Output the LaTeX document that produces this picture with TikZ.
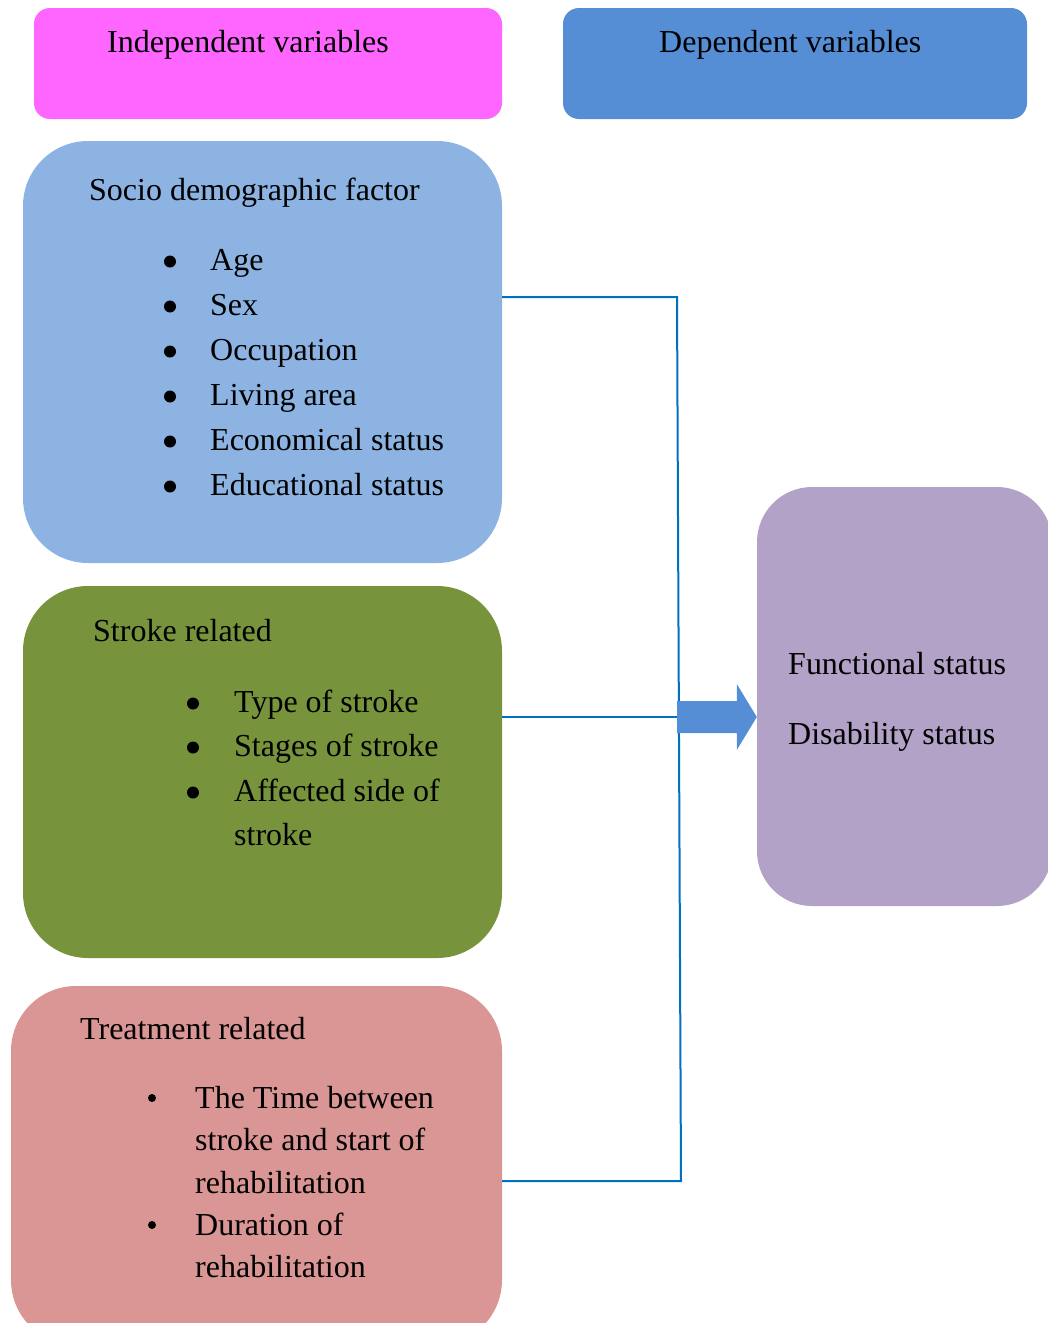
\documentclass[tikz,border=0pt]{standalone}
\usepackage{fontspec}
\setmainfont{Liberation Serif}
\definecolor{indepc}{HTML}{FF66FF}
\definecolor{depc}{HTML}{558ED5}
\definecolor{socc}{HTML}{8DB3E2}
\definecolor{strc}{HTML}{77933C}
\definecolor{trtc}{HTML}{D99694}
\definecolor{outc}{HTML}{B3A2C7}
\definecolor{linkc}{HTML}{0070C0}
\begin{document}
\begin{tikzpicture}[x=1pt,y=-1pt,
  box/.style={rounded corners=#1, inner sep=0pt, draw=none},
  txt/.style={anchor=base west, inner sep=0pt, font=\fontsize{32}{38}\selectfont},
  bigdot/.style={circle, fill=black, inner sep=0pt, minimum size=12pt},
  smalldot/.style={circle, fill=black, inner sep=0pt, minimum size=8pt},
  link/.style={draw=linkc, line width=2pt}]
\useasboundingbox (0,0) rectangle (1048,1323);
\clip (0,0) rectangle (1048,1323);

% header boxes
\node[box=16pt, fill=indepc, minimum width=468pt, minimum height=111pt] (indep) at (268,63.5) {};
\node[box=16pt, fill=depc, minimum width=464pt, minimum height=111pt] (dep) at (795,63.5) {};
\node[txt] (indept) at (107,52) {Independent variables};
\node[txt] (dept) at (659,52) {Dependent variables};

% main boxes
\node[box=65pt, fill=socc, minimum width=479pt, minimum height=422pt] (soc) at (262.5,352) {};
\node[box=65pt, fill=strc, minimum width=479pt, minimum height=372pt] (str) at (262.5,772) {};
\node[box=65pt, fill=trtc, minimum width=491pt, minimum height=359pt] (trt) at (256.5,1165.5) {};
\node[box=55pt, fill=outc, minimum width=295pt, minimum height=419pt] (out) at (904.5,696.5) {};

% socio demographic text
\node[txt] (soch) at (89,200) {Socio demographic factor};
\foreach \t/\y [count=\i] in {Age/270, Sex/315, Occupation/360, Living area/405, Economical status/450, Educational status/495}{
  \node[bigdot] (socb\i) at (170,\y-8.5) {};
  \node[txt] (soct\i) at (210,\y) {\t};
}

% stroke related text
\node[txt] (strh) at (93,641) {Stroke related};
\foreach \t/\y [count=\i] in {Type of stroke/712, Stages of stroke/756, Affected side of/801}{
  \node[bigdot] (strb\i) at (193,\y-8.5) {};
  \node[txt] (strt\i) at (234,\y) {\t};
}
\node[txt] (strt4) at (234,845) {stroke};

% treatment related text
\node[txt] (trth) at (80,1039) {Treatment related};
\node[smalldot] (trtb1) at (152,1098) {};
\node[txt] (trtt1) at (195,1108) {The Time between};
\node[txt] (trtt2) at (195,1150) {stroke and start of};
\node[txt] (trtt3) at (195,1193) {rehabilitation};
\node[smalldot] (trtb2) at (152,1225) {};
\node[txt] (trtt4) at (195,1235) {Duration of};
\node[txt] (trtt5) at (195,1277) {rehabilitation};

% outcome text
\node[txt] (outt1) at (788,674) {Functional status};
\node[txt] (outt2) at (788,744) {Disability status};

% connectors
\coordinate (j1) at (677,297);
\coordinate (j2) at (679,717);
\coordinate (j3) at (681,1181);
\draw[link] (soc.east |- j1) -- (j1) -- (j3) -- (trt.east |- j3);
\draw[link] (str.east |- j2) -- (j2);

% block arrow
\coordinate (tip) at (out.west |- j2);
\fill[depc] ([xshift=-2pt,yshift=-16pt]j2) -- ([xshift=-20pt,yshift=-16pt]tip) -- ([xshift=-20pt,yshift=-33pt]tip)
  -- (tip) -- ([xshift=-20pt,yshift=33pt]tip) -- ([xshift=-20pt,yshift=16pt]tip) -- ([xshift=-2pt,yshift=16pt]j2) -- cycle;
\end{tikzpicture}
\end{document}
